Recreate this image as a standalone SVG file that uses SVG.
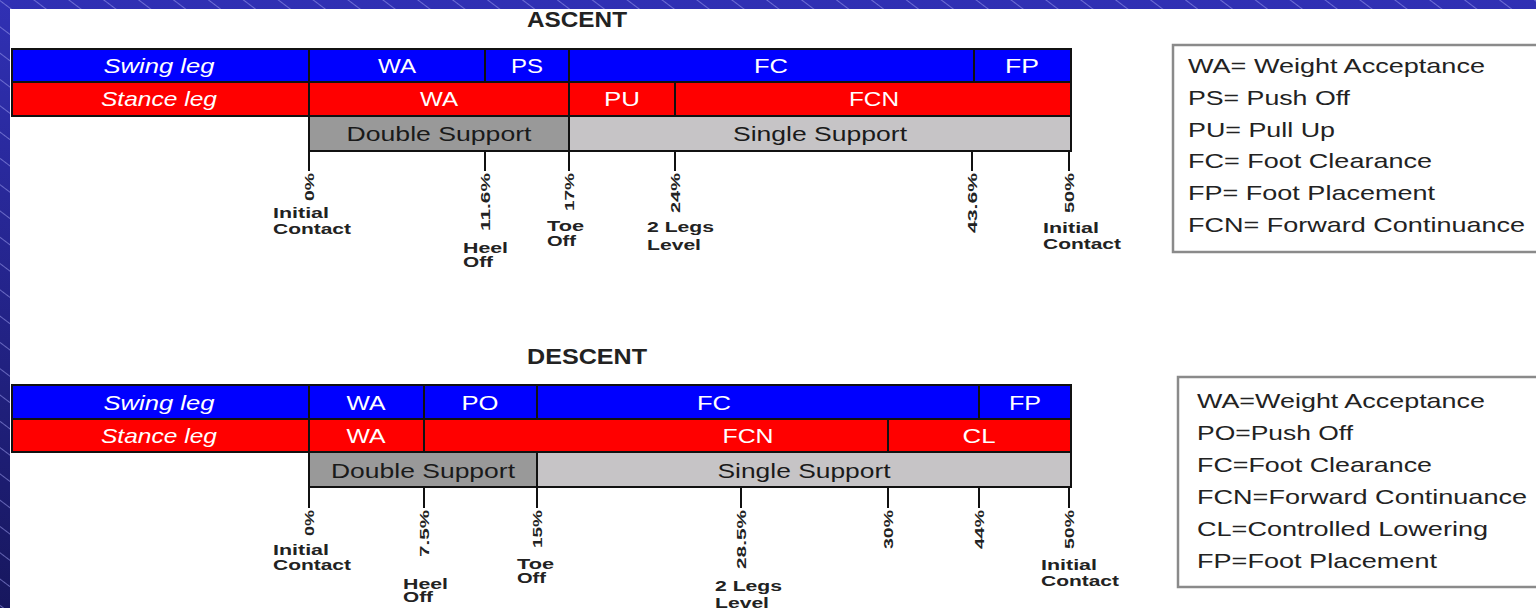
<svg xmlns="http://www.w3.org/2000/svg" width="1536" height="608" viewBox="0 0 1536 608">
  <defs>
    <linearGradient id="bgGrad" x1="0" y1="0" x2="0" y2="1">
      <stop offset="0" stop-color="#3030b4"/>
      <stop offset="1" stop-color="#17175e"/>
    </linearGradient>
    <pattern id="hatch" patternUnits="userSpaceOnUse" width="12" height="21" patternTransform="rotate(37)">
      <line x1="0" y1="0.5" x2="12" y2="0.5" stroke="#a0a0f0" stroke-opacity="0.55" stroke-width="1"/>
    </pattern>
    <style>
      .cell { stroke: #111; stroke-width: 2; }
      .swing { fill: #0000ff; }
      .stance { fill: #ff0000; }
      .ds { fill: #999999; }
      .ss { fill: #c6c4c6; }
      text { font-family: "Liberation Sans", Arial, sans-serif; }
      .lbl { font-size: 21px; fill: #ffffff; text-anchor: middle; }
      .it { font-style: italic; }
      .sup { font-size: 21px; fill: #1a1a1a; text-anchor: middle; }
      .title { font-size: 22px; font-weight: bold; fill: #222; text-anchor: middle; }
      .pct { font-size: 13px; font-weight: bold; fill: #222; text-anchor: end; }
      .ev { font-size: 14px; font-weight: bold; fill: #222; }
      .tick { stroke: #111; stroke-width: 2; }
      .keybox { fill: #ffffff; stroke: #8a8a8a; stroke-width: 2.5; }
      .key { font-size: 21px; fill: #222; }
    </style>
  </defs>

  <!-- slide background with hatching, white panel on top -->
  <rect x="0" y="0" width="1536" height="608" fill="url(#bgGrad)"/>
  <rect x="0" y="0" width="1536" height="608" fill="url(#hatch)"/>
  <rect x="10" y="9" width="1526" height="599" fill="#ffffff"/>

  <!-- ===================== ASCENT ===================== -->
  <text class="title" x="577" y="27" textLength="100" lengthAdjust="spacingAndGlyphs">ASCENT</text>

  <g id="asc-swing-head">
    <rect class="cell swing" x="12" y="49" width="297" height="33"/>
    <text class="lbl it" x="159" y="73" textLength="111" lengthAdjust="spacingAndGlyphs">Swing leg</text>
  </g>
  <g id="asc-swing-wa">
    <rect class="cell swing" x="309" y="49" width="176" height="33"/>
    <text class="lbl" x="397" y="73" textLength="38" lengthAdjust="spacingAndGlyphs">WA</text>
  </g>
  <g id="asc-swing-ps">
    <rect class="cell swing" x="485" y="49" width="84" height="33"/>
    <text class="lbl" x="527" y="73" textLength="32" lengthAdjust="spacingAndGlyphs">PS</text>
  </g>
  <g id="asc-swing-fc">
    <rect class="cell swing" x="569" y="49" width="405" height="33"/>
    <text class="lbl" x="771" y="73" textLength="34" lengthAdjust="spacingAndGlyphs">FC</text>
  </g>
  <g id="asc-swing-fp">
    <rect class="cell swing" x="974" y="49" width="97" height="33"/>
    <text class="lbl" x="1022" y="73" textLength="34" lengthAdjust="spacingAndGlyphs">FP</text>
  </g>

  <g id="asc-stance-head">
    <rect class="cell stance" x="12" y="82" width="297" height="34"/>
    <text class="lbl it" x="159" y="106" textLength="116" lengthAdjust="spacingAndGlyphs">Stance leg</text>
  </g>
  <g id="asc-stance-wa">
    <rect class="cell stance" x="309" y="82" width="260" height="34"/>
    <text class="lbl" x="439" y="106" textLength="38" lengthAdjust="spacingAndGlyphs">WA</text>
  </g>
  <g id="asc-stance-pu">
    <rect class="cell stance" x="569" y="82" width="106" height="34"/>
    <text class="lbl" x="622" y="106" textLength="36" lengthAdjust="spacingAndGlyphs">PU</text>
  </g>
  <g id="asc-stance-fcn">
    <rect class="cell stance" x="675" y="82" width="396" height="34"/>
    <text class="lbl" x="874" y="106" textLength="50" lengthAdjust="spacingAndGlyphs">FCN</text>
  </g>

  <g id="asc-double-support">
    <rect class="cell ds" x="309" y="116" width="260" height="35"/>
    <text class="sup" x="439" y="141" textLength="185" lengthAdjust="spacingAndGlyphs">Double Support</text>
  </g>
  <g id="asc-single-support">
    <rect class="cell ss" x="569" y="116" width="502" height="35"/>
    <text class="sup" x="820" y="141" textLength="174" lengthAdjust="spacingAndGlyphs">Single Support</text>
  </g>

  <g id="asc-events">
    <text class="pct" transform="translate(314,173) rotate(-90)" textLength="28" lengthAdjust="spacingAndGlyphs">0%</text>
    <text class="pct" transform="translate(490,173) rotate(-90)" textLength="58" lengthAdjust="spacingAndGlyphs">11.6%</text>
    <text class="pct" transform="translate(574,173) rotate(-90)" textLength="38" lengthAdjust="spacingAndGlyphs">17%</text>
    <text class="pct" transform="translate(680,173) rotate(-90)" textLength="40" lengthAdjust="spacingAndGlyphs">24%</text>
    <text class="pct" transform="translate(977,173) rotate(-90)" textLength="60" lengthAdjust="spacingAndGlyphs">43.6%</text>
    <text class="pct" transform="translate(1074,173) rotate(-90)" textLength="40" lengthAdjust="spacingAndGlyphs">50%</text>

    <text class="ev" x="273" y="218" textLength="56" lengthAdjust="spacingAndGlyphs">Initial</text>
    <text class="ev" x="273" y="234" textLength="78" lengthAdjust="spacingAndGlyphs">Contact</text>
    <text class="ev" x="463" y="253" textLength="45" lengthAdjust="spacingAndGlyphs">Heel</text>
    <text class="ev" x="463" y="267" textLength="30" lengthAdjust="spacingAndGlyphs">Off</text>
    <text class="ev" x="547" y="231" textLength="37" lengthAdjust="spacingAndGlyphs">Toe</text>
    <text class="ev" x="547" y="246" textLength="29" lengthAdjust="spacingAndGlyphs">Off</text>
    <text class="ev" x="647" y="232" textLength="67" lengthAdjust="spacingAndGlyphs">2 Legs</text>
    <text class="ev" x="647" y="250" textLength="54" lengthAdjust="spacingAndGlyphs">Level</text>
    <text class="ev" x="1043" y="233" textLength="56" lengthAdjust="spacingAndGlyphs">Initial</text>
    <text class="ev" x="1043" y="249" textLength="78" lengthAdjust="spacingAndGlyphs">Contact</text>
  </g>

  <g id="asc-key">
    <rect class="keybox" x="1173" y="45" width="380" height="207"/>
    <text class="key" x="1188" y="73" textLength="297" lengthAdjust="spacingAndGlyphs">WA= Weight Acceptance</text>
    <text class="key" x="1188" y="105" textLength="162" lengthAdjust="spacingAndGlyphs">PS= Push Off</text>
    <text class="key" x="1188" y="137" textLength="147" lengthAdjust="spacingAndGlyphs">PU= Pull Up</text>
    <text class="key" x="1188" y="168" textLength="244" lengthAdjust="spacingAndGlyphs">FC= Foot Clearance</text>
    <text class="key" x="1188" y="200" textLength="247" lengthAdjust="spacingAndGlyphs">FP= Foot Placement</text>
    <text class="key" x="1188" y="232" textLength="337" lengthAdjust="spacingAndGlyphs">FCN= Forward Continuance</text>
  </g>

  <!-- ===================== DESCENT ===================== -->
  <text class="title" x="587" y="364" textLength="120" lengthAdjust="spacingAndGlyphs">DESCENT</text>

  <g id="desc-swing-head">
    <rect class="cell swing" x="12" y="385" width="297" height="34"/>
    <text class="lbl it" x="159" y="410" textLength="111" lengthAdjust="spacingAndGlyphs">Swing leg</text>
  </g>
  <g id="desc-swing-wa">
    <rect class="cell swing" x="309" y="385" width="115" height="34"/>
    <text class="lbl" x="366" y="410" textLength="39" lengthAdjust="spacingAndGlyphs">WA</text>
  </g>
  <g id="desc-swing-po">
    <rect class="cell swing" x="424" y="385" width="113" height="34"/>
    <text class="lbl" x="480" y="410" textLength="37" lengthAdjust="spacingAndGlyphs">PO</text>
  </g>
  <g id="desc-swing-fc">
    <rect class="cell swing" x="537" y="385" width="442" height="34"/>
    <text class="lbl" x="714" y="410" textLength="34" lengthAdjust="spacingAndGlyphs">FC</text>
  </g>
  <g id="desc-swing-fp">
    <rect class="cell swing" x="979" y="385" width="92" height="34"/>
    <text class="lbl" x="1025" y="410" textLength="32" lengthAdjust="spacingAndGlyphs">FP</text>
  </g>

  <g id="desc-stance-head">
    <rect class="cell stance" x="12" y="419" width="297" height="33"/>
    <text class="lbl it" x="159" y="443" textLength="116" lengthAdjust="spacingAndGlyphs">Stance leg</text>
  </g>
  <g id="desc-stance-wa">
    <rect class="cell stance" x="309" y="419" width="115" height="33"/>
    <text class="lbl" x="366" y="443" textLength="39" lengthAdjust="spacingAndGlyphs">WA</text>
  </g>
  <g id="desc-stance-fcn">
    <rect class="cell stance" x="424" y="419" width="464" height="33"/>
    <text class="lbl" x="748" y="443" textLength="51" lengthAdjust="spacingAndGlyphs">FCN</text>
  </g>
  <g id="desc-stance-cl">
    <rect class="cell stance" x="888" y="419" width="183" height="33"/>
    <text class="lbl" x="979" y="443" textLength="33" lengthAdjust="spacingAndGlyphs">CL</text>
  </g>

  <g id="desc-double-support">
    <rect class="cell ds" x="309" y="452" width="228" height="35"/>
    <text class="sup" x="423" y="478" textLength="184" lengthAdjust="spacingAndGlyphs">Double Support</text>
  </g>
  <g id="desc-single-support">
    <rect class="cell ss" x="537" y="452" width="534" height="35"/>
    <text class="sup" x="804" y="478" textLength="173" lengthAdjust="spacingAndGlyphs">Single Support</text>
  </g>

  <g id="desc-events">
    <text class="pct" transform="translate(314,510) rotate(-90)" textLength="26" lengthAdjust="spacingAndGlyphs">0%</text>
    <text class="pct" transform="translate(429,510) rotate(-90)" textLength="47" lengthAdjust="spacingAndGlyphs">7.5%</text>
    <text class="pct" transform="translate(542,510) rotate(-90)" textLength="38" lengthAdjust="spacingAndGlyphs">15%</text>
    <text class="pct" transform="translate(746,510) rotate(-90)" textLength="59" lengthAdjust="spacingAndGlyphs">28.5%</text>
    <text class="pct" transform="translate(893,510) rotate(-90)" textLength="39" lengthAdjust="spacingAndGlyphs">30%</text>
    <text class="pct" transform="translate(984,510) rotate(-90)" textLength="39" lengthAdjust="spacingAndGlyphs">44%</text>
    <text class="pct" transform="translate(1074,510) rotate(-90)" textLength="39" lengthAdjust="spacingAndGlyphs">50%</text>

    <text class="ev" x="273" y="555" textLength="56" lengthAdjust="spacingAndGlyphs">Initial</text>
    <text class="ev" x="273" y="570" textLength="78" lengthAdjust="spacingAndGlyphs">Contact</text>
    <text class="ev" x="403" y="589" textLength="45" lengthAdjust="spacingAndGlyphs">Heel</text>
    <text class="ev" x="403" y="602" textLength="30" lengthAdjust="spacingAndGlyphs">Off</text>
    <text class="ev" x="517" y="569" textLength="37" lengthAdjust="spacingAndGlyphs">Toe</text>
    <text class="ev" x="517" y="583" textLength="29" lengthAdjust="spacingAndGlyphs">Off</text>
    <text class="ev" x="715" y="591" textLength="67" lengthAdjust="spacingAndGlyphs">2 Legs</text>
    <text class="ev" x="715" y="608" textLength="54" lengthAdjust="spacingAndGlyphs">Level</text>
    <text class="ev" x="1041" y="570" textLength="56" lengthAdjust="spacingAndGlyphs">Initial</text>
    <text class="ev" x="1041" y="586" textLength="78" lengthAdjust="spacingAndGlyphs">Contact</text>
  </g>

  <g id="desc-key">
    <rect class="keybox" x="1178" y="377" width="380" height="210"/>
    <text class="key" x="1197" y="408" textLength="288" lengthAdjust="spacingAndGlyphs">WA=Weight Acceptance</text>
    <text class="key" x="1197" y="440" textLength="156" lengthAdjust="spacingAndGlyphs">PO=Push Off</text>
    <text class="key" x="1197" y="472" textLength="235" lengthAdjust="spacingAndGlyphs">FC=Foot Clearance</text>
    <text class="key" x="1197" y="504" textLength="330" lengthAdjust="spacingAndGlyphs">FCN=Forward Continuance</text>
    <text class="key" x="1197" y="536" textLength="291" lengthAdjust="spacingAndGlyphs">CL=Controlled Lowering</text>
    <text class="key" x="1197" y="568" textLength="240" lengthAdjust="spacingAndGlyphs">FP=Foot Placement</text>
  </g>

  <!-- event ticks hanging below the support bars -->
  <g id="connectors">
    <line class="tick" x1="309" y1="151" x2="309" y2="171"/>
    <line class="tick" x1="485" y1="151" x2="485" y2="171"/>
    <line class="tick" x1="569" y1="151" x2="569" y2="171"/>
    <line class="tick" x1="675" y1="151" x2="675" y2="171"/>
    <line class="tick" x1="972" y1="151" x2="972" y2="171"/>
    <line class="tick" x1="1069" y1="151" x2="1069" y2="171"/>

    <line class="tick" x1="309" y1="487" x2="309" y2="508"/>
    <line class="tick" x1="424" y1="487" x2="424" y2="508"/>
    <line class="tick" x1="537" y1="487" x2="537" y2="508"/>
    <line class="tick" x1="741" y1="487" x2="741" y2="508"/>
    <line class="tick" x1="888" y1="487" x2="888" y2="508"/>
    <line class="tick" x1="979" y1="487" x2="979" y2="508"/>
    <line class="tick" x1="1069" y1="487" x2="1069" y2="508"/>
  </g>
</svg>
